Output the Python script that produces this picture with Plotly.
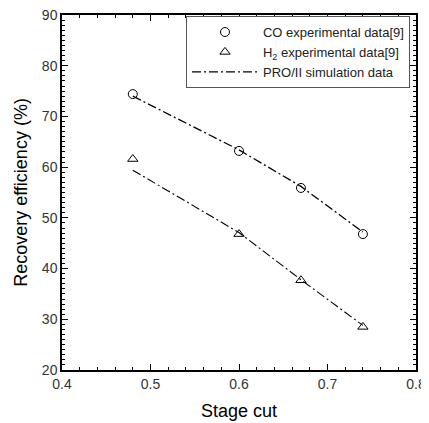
import plotly.graph_objects as go

stage_cut = [0.48, 0.60, 0.67, 0.74]
co_exp = [74.4, 63.2, 55.9, 46.8]
h2_exp = [61.6, 46.8, 37.7, 28.5]
co_sim = [74.0, 63.4, 56.2, 47.2]
h2_sim = [59.4, 47.1, 37.8, 28.8]

FONT = "Liberation Sans, Arial, sans-serif"
dash = "9px,3px,2px,3px"

fig = go.Figure()
fig.add_trace(go.Scatter(x=stage_cut, y=co_exp, mode="markers", name="CO experimental data[9]",
                         marker=dict(symbol="circle-open", size=9, color="black", line=dict(width=1))))
fig.add_trace(go.Scatter(x=stage_cut, y=h2_exp, mode="markers", name="H<sub>2</sub> experimental data[9]",
                         marker=dict(symbol="triangle-up-open", size=9, color="black", line=dict(width=1))))
fig.add_trace(go.Scatter(x=stage_cut, y=co_sim, mode="lines", name="PRO/II simulation data",
                         line=dict(color="black", width=1.3, dash=dash)))
fig.add_trace(go.Scatter(x=stage_cut, y=h2_sim, mode="lines", showlegend=False,
                         line=dict(color="black", width=1.1, dash=dash)))

axis_common = dict(showline=True, linecolor="black", linewidth=1.5, mirror="allticks",
                   ticks="inside", ticklen=6, tickwidth=1, tickcolor="black", showgrid=False, zeroline=False,
                   automargin=False, ticklabeloverflow="allow",
                   tickfont=dict(family=FONT, size=14, color="#333"))

fig.update_xaxes(range=[0.4, 0.8], dtick=0.1, tickformat=".1f",
                 minor=dict(ticks="inside", ticklen=3, dtick=0.02, tickcolor="black", tickwidth=1, showgrid=False),
                 title=dict(text="Stage cut", font=dict(family=FONT, size=18, color="black"), standoff=14),
                 **axis_common)
fig.update_yaxes(range=[20, 90], dtick=10,
                 minor=dict(ticks="inside", ticklen=3, dtick=1, tickcolor="black", tickwidth=1, showgrid=False),
                 title=dict(text="Recovery efficiency (%)", font=dict(family=FONT, size=18, color="black"), standoff=10),
                 **axis_common)

fig.update_layout(
    width=421, height=415,
    margin=dict(l=54, r=13, t=7, b=53),
    plot_bgcolor="white", paper_bgcolor="white",
    font=dict(family=FONT, size=14, color="black"),
    legend=dict(x=0.983, y=0.997, xanchor="right", yanchor="top",
                bordercolor="#555", borderwidth=1, bgcolor="white",
                font=dict(family=FONT, size=13, color="#222"),
                tracegroupgap=2, itemwidth=66),
)

fig.write_html("out.html")
